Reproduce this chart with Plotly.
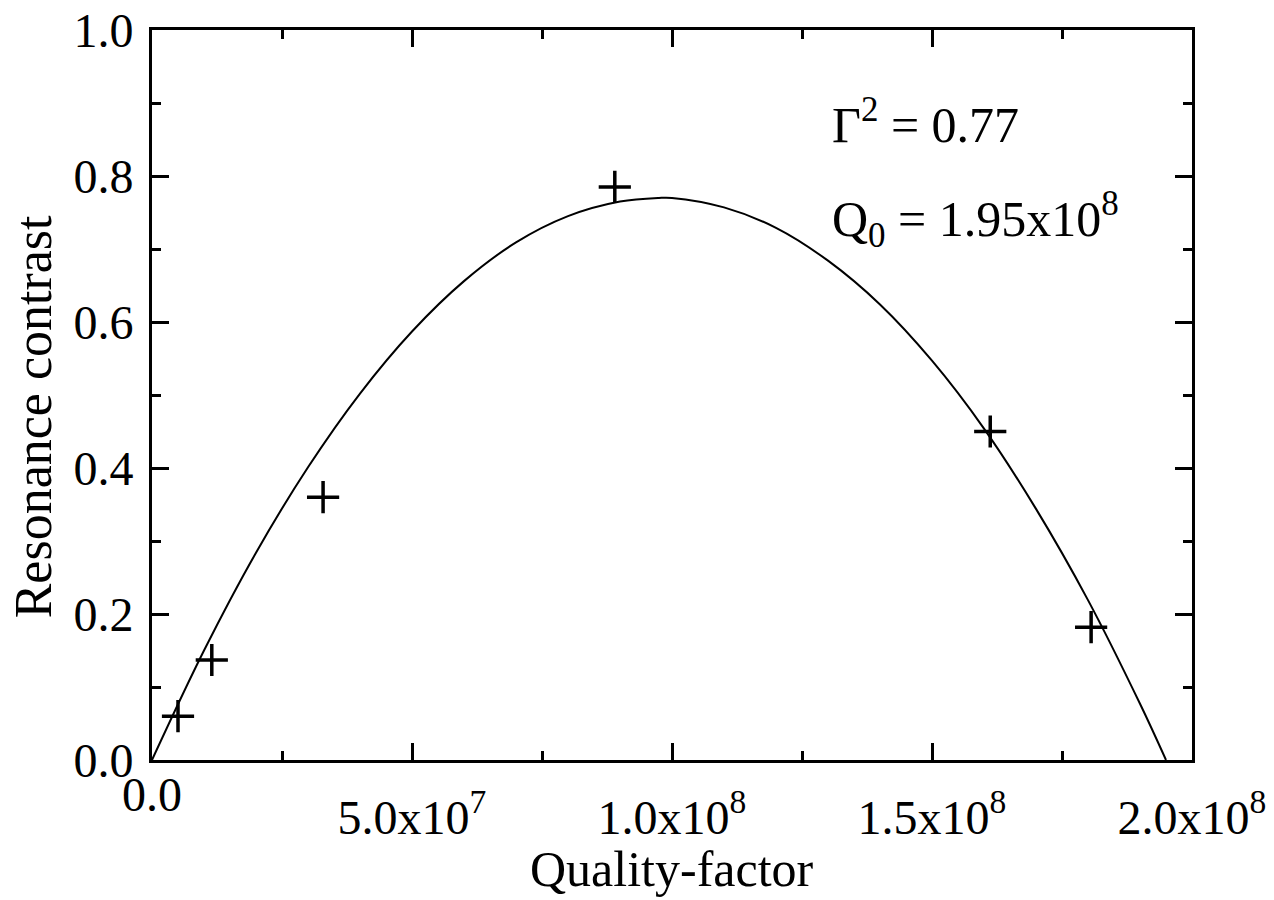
import plotly.graph_objects as go

# measured points
q_meas = [0.5e7, 1.15e7, 3.29e7, 8.9e7, 1.612e8, 1.806e8]
contrast_meas = [0.06, 0.137, 0.36, 0.785, 0.45, 0.182]

# fitted curve
q_fit = [0, 0.1e8, 0.2e8, 0.3e8, 0.4e8, 0.5e8, 0.6e8, 0.7e8, 0.8e8, 0.9e8, 0.975e8,
         1.0e8, 1.1e8, 1.2e8, 1.3e8, 1.4e8, 1.5e8, 1.6e8, 1.7e8, 1.8e8, 1.9e8, 1.95e8]
contrast_fit = [0.0, 0.150, 0.284, 0.401, 0.502, 0.587, 0.656, 0.709, 0.745, 0.765, 0.770,
                0.770, 0.757, 0.729, 0.684, 0.624, 0.547, 0.454, 0.344, 0.219, 0.077, 0.0]

x_tickvals = [0, 0.5e8, 1.0e8, 1.5e8, 2.0e8]
x_ticktext = ["0.0", "5.0x10<sup>7</sup>", "1.0x10<sup>8</sup>",
              "1.5x10<sup>8</sup>", "2.0x10<sup>8</sup>"]
y_tickvals = [0, 0.2, 0.4, 0.6, 0.8, 1.0]
y_ticktext = ["0.0", "0.2", "0.4", "0.6", "0.8", "1.0"]

font = "Liberation Serif"
fsize = 48

fig = go.Figure()
fig.add_trace(go.Scatter(x=q_fit, y=contrast_fit, mode="lines", line_shape="spline",
                         line=dict(color="black", width=2), showlegend=False))
fig.add_trace(go.Scatter(x=q_meas, y=contrast_meas, mode="markers", showlegend=False,
                         marker=dict(symbol="cross-thin", size=23,
                                     line=dict(color="black", width=3.5))))

axis_common = dict(showline=True, linecolor="black", linewidth=3, mirror="allticks",
                   ticks="inside", ticklen=17, tickwidth=3, tickcolor="black",
                   showgrid=False, zeroline=False, ticklabeloverflow="allow",
                   automargin=False,
                   tickfont=dict(family=font, size=fsize, color="black"))

# the "0.0" x label sits higher in the original, so it is drawn as an annotation
fig.update_xaxes(range=[0, 2.0e8], tickvals=x_tickvals,
                 ticktext=[""] + x_ticktext[1:], ticklabelstandoff=13,
                 minor=dict(ticks="inside", ticklen=9, tickwidth=3, tickcolor="black",
                            dtick=0.25e8, tick0=0),
                 **axis_common)
fig.update_yaxes(range=[0, 1.0], tickvals=y_tickvals, ticktext=y_ticktext,
                 ticklabelstandoff=6,
                 minor=dict(ticks="inside", ticklen=9, tickwidth=3, tickcolor="black",
                            dtick=0.1, tick0=0),
                 **axis_common)

txt = dict(family=font, size=fsize, color="black")
big = dict(family=font, size=50, color="black")
fig.add_annotation(x=0, y=-0.047, xref="paper", yref="paper", xanchor="center", yanchor="middle",
                   text=x_ticktext[0], showarrow=False, font=txt)
fig.add_annotation(x=0.5, y=-0.150, xref="paper", yref="paper", xanchor="center", yanchor="middle",
                   text="Quality-factor", showarrow=False, font=big)
fig.add_annotation(x=-0.114, y=0.47, xref="paper", yref="paper", xanchor="center", yanchor="middle",
                   text="Resonance contrast", textangle=-90, showarrow=False,
                   font=dict(family=font, size=52, color="black"))
fig.add_annotation(x=0.652, y=0.874, xref="paper", yref="paper", xanchor="left", yanchor="middle",
                   text="Γ<sup>2</sup> = 0.77", showarrow=False, font=big)
fig.add_annotation(x=0.652, y=0.74, xref="paper", yref="paper", xanchor="left", yanchor="middle",
                   text="Q<sub>0</sub> = 1.95x10<sup>8</sup>", showarrow=False, font=big)

fig.update_layout(width=1266, height=892, plot_bgcolor="white", paper_bgcolor="white",
                  margin=dict(l=144, r=82, t=22, b=140))

fig.write_html("out.html")
